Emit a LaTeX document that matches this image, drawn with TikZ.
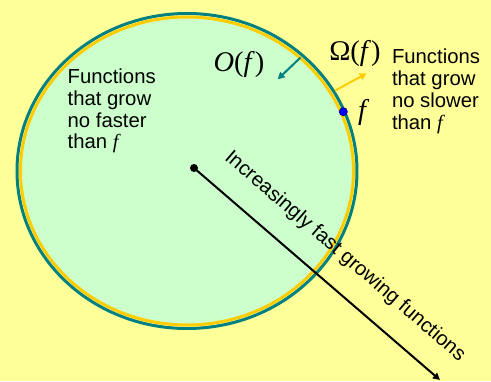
\documentclass[tikz,border=0pt]{standalone}
\usepackage{fontspec}
\setmainfont{Liberation Sans}
\newfontfamily\timesit{Liberation Serif}
\usepackage{xcolor}
\usetikzlibrary{arrows.meta, positioning}

\definecolor{bgyellow}{RGB}{255,255,153}
\definecolor{setgreen}{RGB}{204,255,204}
\definecolor{ocolor}{RGB}{0,128,128}
\definecolor{omegacolor}{RGB}{255,204,0}
\definecolor{fblue}{RGB}{0,0,255}

\begin{document}
\begin{tikzpicture}[
    x=1pt, y=-1pt,
    txt/.style={font=\fontsize{20.3}{21.8}\selectfont, align=left, inner sep=0pt},
    bigtxt/.style={font=\timesit\fontsize{28.5}{30}\selectfont, inner sep=0pt},
    dot/.style={circle, inner sep=0pt, minimum size=8pt},
    arrow/.style={line width=2pt, -{Triangle[length=7pt,width=7pt]}}
]
\fill[bgyellow] (0,0) rectangle (491,381);
\useasboundingbox (0,0) rectangle (491,381);

% the two boundaries
\draw[ocolor, line width=3pt] (187,171) ellipse [x radius=170, y radius=157.5];
\draw[omegacolor, fill=setgreen, line width=3pt] (187,171) ellipse [x radius=166.5, y radius=154];

\node (faster) [txt, anchor=north west] at (67.5,68.5) {Functions\\that grow\\no faster\\than {\timesit\itshape f}};
\node (slower) [txt, anchor=north west] at (391.8,48.8) {Functions\\that grow\\no slower\\than {\timesit\itshape f}};

\node (olabel) [bigtxt] at (239,64) {\itshape O\/\upshape(\itshape f\/\upshape)};
\node (omegalabel) [bigtxt] at (355,53) {Ω(\itshape f\/\upshape)};
\node (fdot) [dot, fill=fblue, draw=blue!60!black, line width=0.8pt] at (343.3,111.7) {};
\node (flabel) [bigtxt] at (362,112) {\itshape f};

\coordinate (otail) at (300.5,57.5);
\coordinate (ohead) at (277.7,79.3);
\coordinate (wtail) at (335,90.7);
\coordinate (whead) at (366.7,73.3);
\draw [arrow, ocolor] (otail) -- (ohead);
\draw [arrow, omegacolor] (wtail) -- (whead);

% growth direction
\node (start) [dot, fill=black] at (194,168) {};
\coordinate (far) at (440,380);
\draw [arrow, black] (start.center) -- node[sloped, above=21pt, pos=0.53, inner sep=0pt, font=\fontsize{20.3}{22}\selectfont] {Increasingly fast growing functions} (far);

\end{tikzpicture}
\end{document}
